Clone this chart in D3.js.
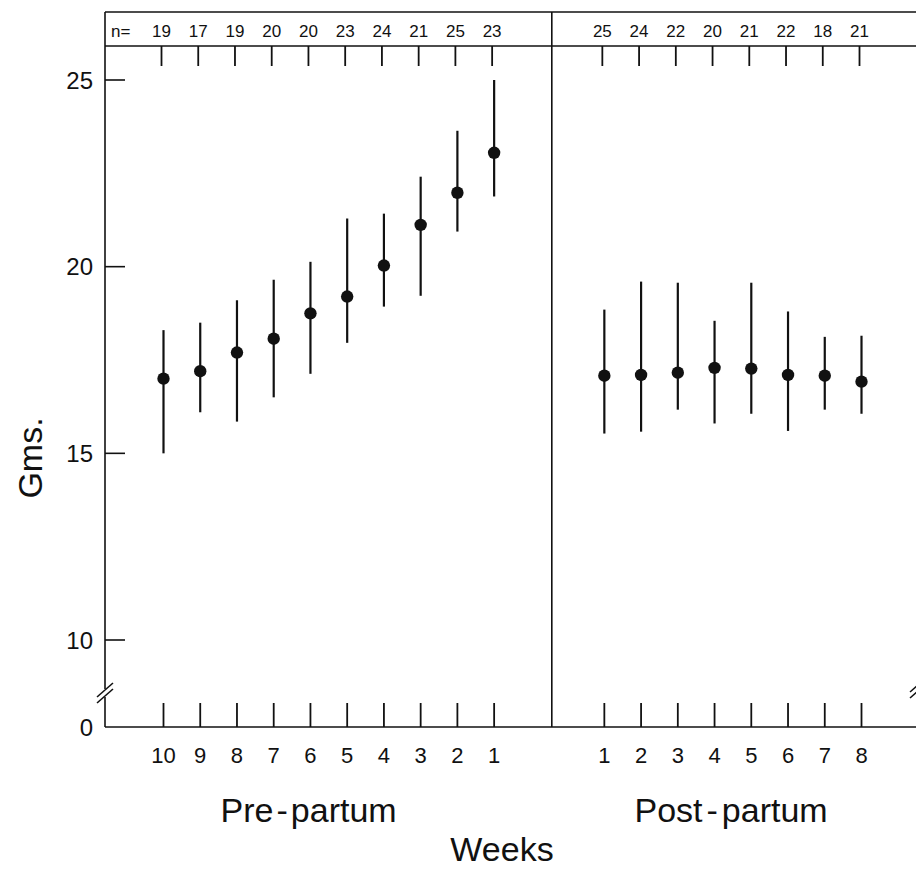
<!DOCTYPE html>
<html>
<head>
<meta charset="utf-8">
<script src="https://cdn.jsdelivr.net/npm/d3@7"></script>
<style>
  body { margin: 0; background: #fff; }
  svg { display: block; font-family: "Liberation Sans", Arial, sans-serif; }
  text { fill: #111; }
</style>
</head>
<body>
<svg id="chart" width="916" height="871"></svg>
<script>
// weekly values
const preWeeks = [10, 9, 8, 7, 6, 5, 4, 3, 2, 1];
const preN = [19, 17, 19, 20, 20, 23, 24, 21, 25, 23];
const preMean = [17.0, 17.2, 17.7, 18.07, 18.75, 19.2, 20.03, 21.12, 21.98, 23.05];
const preHigh = [18.3, 18.5, 19.1, 19.65, 20.13, 21.29, 21.42, 22.41, 23.64, 25.0];
const preLow = [15.0, 16.1, 15.85, 16.5, 17.13, 17.96, 18.93, 19.22, 20.94, 21.88];

const postWeeks = [1, 2, 3, 4, 5, 6, 7, 8];
const postN = [25, 24, 22, 20, 21, 22, 18, 21];
const postMean = [17.08, 17.1, 17.16, 17.29, 17.27, 17.1, 17.08, 16.92];
const postHigh = [18.85, 19.6, 19.57, 18.55, 19.57, 18.8, 18.12, 18.15];
const postLow = [15.53, 15.58, 16.17, 15.8, 16.06, 15.6, 16.17, 16.06];

const yTicks = [25, 20, 15, 10];

// one row per plotted week; slot is the position along the x axis
const rows = [
  ...preWeeks.map((w, i) => ({ week: w, slot: i, n: preN[i], mean: preMean[i], hi: preHigh[i], lo: preLow[i] })),
  ...postWeeks.map((w, i) => ({ week: w, slot: 12 + i, n: postN[i], mean: postMean[i], hi: postHigh[i], lo: postLow[i] }))
];

const svg = d3.select('#chart');
const ink = '#111';

const x = d3.scaleLinear().domain([0, 19]).range([163.5, 861.5]);
const y = d3.scaleLinear().domain([10, 25]).range([640, 80]);

const axisX = 105, topY = 12, nRowY = 46, baseY = 727, rightX = 916;
const divX = x(10.57);

// frame lines
const g = svg.append('g').attr('stroke', ink).attr('stroke-width', 1.6).attr('fill', 'none');
g.append('line').attr('x1', axisX).attr('x2', rightX).attr('y1', topY).attr('y2', topY);
g.append('line').attr('x1', axisX).attr('x2', rightX).attr('y1', nRowY).attr('y2', nRowY);
g.append('line').attr('x1', axisX).attr('x2', rightX).attr('y1', baseY).attr('y2', baseY);
g.append('line').attr('x1', divX).attr('x2', divX).attr('y1', topY).attr('y2', baseY);

// left axis, broken between 10 and 0
g.append('line').attr('x1', axisX).attr('x2', axisX).attr('y1', topY).attr('y2', 689);
g.append('line').attr('x1', axisX).attr('x2', axisX).attr('y1', 697).attr('y2', baseY);
[0, 6].forEach(off => {
  g.append('line')
    .attr('x1', axisX - 8).attr('y1', 697 + off)
    .attr('x2', axisX + 8).attr('y2', 683 + off);
});
// right break mark, mostly outside the picture
[0, 6].forEach(off => {
  g.append('line')
    .attr('x1', rightX - 6).attr('y1', 692 + off)
    .attr('x2', rightX + 10).attr('y2', 678 + off);
});

// y ticks + labels
yTicks.forEach(t => {
  g.append('line').attr('x1', axisX).attr('x2', axisX + 20).attr('y1', y(t)).attr('y2', y(t));
});
svg.append('g').selectAll('text')
  .data(yTicks.map(t => ({ label: t, pos: y(t) })).concat([{ label: 0, pos: baseY }]))
  .join('text')
  .attr('x', 93).attr('y', d => d.pos).attr('dy', '0.36em')
  .attr('text-anchor', 'end').style('font-size', '24px')
  .text(d => d.label);

// top and bottom ticks
const ticks = svg.append('g').attr('stroke', ink).attr('stroke-width', 1.8);
ticks.selectAll('line.top').data(rows).join('line').attr('class', 'top')
  .attr('x1', d => x(d.slot) - 2).attr('x2', d => x(d.slot) - 2)
  .attr('y1', nRowY).attr('y2', nRowY + 20);
ticks.selectAll('line.bot').data(rows).join('line').attr('class', 'bot')
  .attr('x1', d => x(d.slot)).attr('x2', d => x(d.slot))
  .attr('y1', baseY).attr('y2', baseY - 24);

// n row
svg.append('text').attr('x', 111).attr('y', 37).style('font-size', '17px').text('n=');
svg.append('g').selectAll('text').data(rows).join('text')
  .attr('x', d => x(d.slot) - 2).attr('y', 37)
  .attr('text-anchor', 'middle').style('font-size', '17px')
  .text(d => d.n);

// week labels
svg.append('g').selectAll('text').data(rows).join('text')
  .attr('x', d => x(d.slot)).attr('y', 763)
  .attr('text-anchor', 'middle').style('font-size', '22px')
  .text(d => d.week);

// error bars and means
const marks = svg.append('g');
marks.selectAll('line').data(rows).join('line')
  .attr('x1', d => x(d.slot)).attr('x2', d => x(d.slot))
  .attr('y1', d => y(d.hi)).attr('y2', d => y(d.lo))
  .attr('stroke', ink).attr('stroke-width', 2.2);
marks.selectAll('circle').data(rows).join('circle')
  .attr('cx', d => x(d.slot)).attr('cy', d => y(d.mean))
  .attr('r', 6.2).attr('fill', ink);

// titles
const pre = svg.append('text').attr('x', x(3.95)).attr('y', 822)
  .attr('text-anchor', 'middle').style('font-size', '34px');
pre.append('tspan').text('Pre');
pre.append('tspan').attr('dx', 3).text('-');
pre.append('tspan').attr('dx', 3).text('partum');

const post = svg.append('text').attr('x', x(15.45)).attr('y', 822)
  .attr('text-anchor', 'middle').style('font-size', '34px');
post.append('tspan').text('Post');
post.append('tspan').attr('dx', 4).text('-');
post.append('tspan').attr('dx', 4).text('partum');

svg.append('text').attr('x', 502).attr('y', 861)
  .attr('text-anchor', 'middle').style('font-size', '34px').text('Weeks');

svg.append('text')
  .attr('transform', 'translate(42,458) rotate(-90)')
  .attr('text-anchor', 'middle').style('font-size', '34px').text('Gms.');
</script>
</body>
</html>
